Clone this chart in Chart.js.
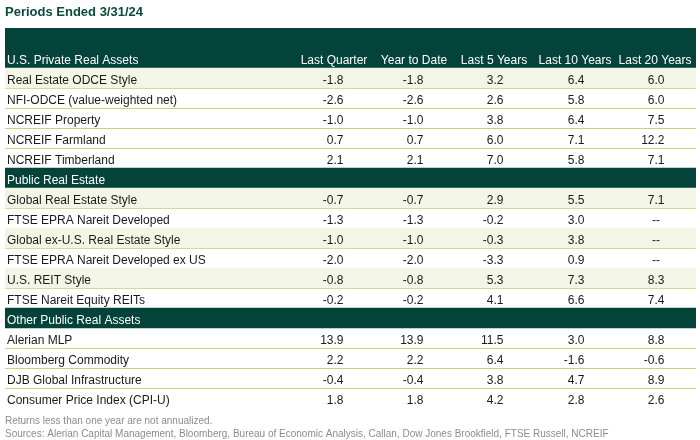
<!DOCTYPE html>
<html>
<head>
<meta charset="utf-8">
<script src="https://cdn.jsdelivr.net/npm/chart.js@4"></script>
<style>
  body { margin: 0; background: #fff; }
</style>
</head>
<body>
<canvas id="returnsTable" width="700" height="440"></canvas>
<script>
// Periods ended 3/31/24 - returns table
const sectionNames = ['U.S. Private Real Assets', 'Public Real Estate', 'Other Public Real Assets'];
const columnNames = ['Last Quarter', 'Year to Date', 'Last 5 Years', 'Last 10 Years', 'Last 20 Years'];

const indexNames = [
    'Real Estate ODCE Style', 'NFI-ODCE (value-weighted net)', 'NCREIF Property', 'NCREIF Farmland', 'NCREIF Timberland',
    'Global Real Estate Style', 'FTSE EPRA Nareit Developed', 'Global ex-U.S. Real Estate Style',
    'FTSE EPRA Nareit Developed ex US', 'U.S. REIT Style', 'FTSE Nareit Equity REITs',
    'Alerian MLP', 'Bloomberg Commodity', 'DJB Global Infrastructure', 'Consumer Price Index (CPI-U)'
];
const indexSection = [0, 0, 0, 0, 0, 1, 1, 1, 1, 1, 1, 2, 2, 2, 2];

const lastQuarter = [-1.8, -2.6, -1.0, 0.7, 2.1, -0.7, -1.3, -1.0, -2.0, -0.8, -0.2, 13.9, 2.2, -0.4, 1.8];
const yearToDate  = [-1.8, -2.6, -1.0, 0.7, 2.1, -0.7, -1.3, -1.0, -2.0, -0.8, -0.2, 13.9, 2.2, -0.4, 1.8];
const last5Years  = [3.2, 2.6, 3.8, 6.0, 7.0, 2.9, -0.2, -0.3, -3.3, 5.3, 4.1, 11.5, 6.4, 3.8, 4.2];
const last10Years = [6.4, 5.8, 6.4, 7.1, 5.8, 5.5, 3.0, 3.8, 0.9, 7.3, 6.6, 3.0, -1.6, 4.7, 2.8];
const last20Years = [6.0, 6.0, 7.5, 12.2, 7.1, 7.1, null, null, null, 8.3, 7.4, 8.8, -0.6, 8.9, 2.6];

const footnotes = [
    'Returns less than one year are not annualized.',
    'Sources: Alerian Capital Management, Bloomberg, Bureau of Economic Analysis, Callan, Dow Jones Brookfield, FTSE Russell, NCREIF'
];

// Layout / style
const FONT = 'Liberation Sans, Arial, sans-serif';
const DARK = '#03433a';
const CREAM = '#f3f5e6';
const LINE = '#c3d47a';
const TABLE_LEFT = 5;
const TABLE_RIGHT = 696;
const LABEL_X = 7;
const TEXT_DROP = 2.5; // cell text sits a little low in its row
const COL_CENTERS = [334, 414, 494, 575, 655];

// Build one slot per table row: top header pad, section headers, index rows
const seriesCols = [lastQuarter, yearToDate, last5Years, last10Years, last20Years];
const slots = [{ type: 'pad', text: '' }];
sectionNames.forEach((name, s) => {
    slots.push({ type: 'section', text: name, first: s === 0 });
    indexNames.forEach((n, i) => {
        if (indexSection[i] === s) {
            slots.push({ type: 'index', text: n, values: seriesCols.map(c => c[i]), shaded: n.endsWith('Style') });
        }
    });
});

const bandData = slots.map(s => (s.type !== 'index' || s.shaded) ? [TABLE_LEFT, TABLE_RIGHT] : null);
const bandColors = slots.map(s => s.type === 'index' ? CREAM : DARK);

// Draws the cell texts using the chart scales
const tableText = {
    id: 'tableText',
    afterDatasetsDraw(chart) {
        const { ctx, scales: { x, y } } = chart;
        ctx.save();
        ctx.textBaseline = 'middle';
        ctx.font = '12px ' + FONT;
        slots.forEach((s, i) => {
            const py = y.getPixelForValue(i) + TEXT_DROP;
            if (s.type === 'pad') return;
            ctx.fillStyle = s.type === 'section' ? '#ffffff' : '#1a1a1a';
            ctx.textAlign = 'left';
            ctx.fillText(s.text, x.getPixelForValue(LABEL_X), py);
            if (s.type === 'section' && s.first) {
                ctx.textAlign = 'center';
                columnNames.forEach((c, j) => ctx.fillText(c, x.getPixelForValue(COL_CENTERS[j]), py));
            }
            if (s.type === 'index') {
                s.values.forEach((v, j) => {
                    if (v === null) {
                        ctx.textAlign = 'center';
                        ctx.fillText('--', x.getPixelForValue(COL_CENTERS[j] + 1), py);
                    } else {
                        ctx.textAlign = 'right';
                        ctx.fillText(v.toFixed(1), x.getPixelForValue(COL_CENTERS[j] + 9.5), py);
                    }
                });
            }
        });
        ctx.restore();
    }
};

new Chart(document.getElementById('returnsTable'), {
    type: 'bar',
    data: {
        labels: slots.map(s => s.text),
        datasets: [{
            data: bandData,
            backgroundColor: bandColors,
            borderWidth: 0,
            barPercentage: 1,
            categoryPercentage: 1
        }]
    },
    options: {
        responsive: false,
        animation: false,
        indexAxis: 'y',
        layout: { padding: { left: TABLE_LEFT, right: 700 - TABLE_RIGHT, top: 0, bottom: 0 } },
        plugins: {
            legend: { display: false },
            tooltip: { enabled: false },
            title: {
                display: true,
                text: 'Periods Ended 3/31/24',
                align: 'start',
                color: '#0b4b3d',
                font: { family: FONT, size: 13, weight: 'bold' },
                padding: { top: 4.2, bottom: 8.2 }
            },
            subtitle: {
                display: true,
                position: 'bottom',
                align: 'start',
                text: footnotes,
                color: '#8c8c8c',
                font: { family: FONT, size: 10, lineHeight: 1.3 },
                padding: { top: 7, bottom: -1 }
            }
        },
        scales: {
            x: {
                type: 'linear',
                display: false,
                min: TABLE_LEFT,
                max: TABLE_RIGHT
            },
            y: {
                display: true,
                ticks: { display: false },
                border: { display: false },
                grid: {
                    offset: true,
                    drawTicks: false,
                    tickLength: 0,
                    lineWidth: 1,
                    color: ctx => {
                        const prev = slots[ctx.index - 1];
                        return prev && prev.type === 'index' ? LINE : 'rgba(0,0,0,0)';
                    }
                }
            }
        }
    },
    plugins: [tableText]
});
</script>
</body>
</html>
